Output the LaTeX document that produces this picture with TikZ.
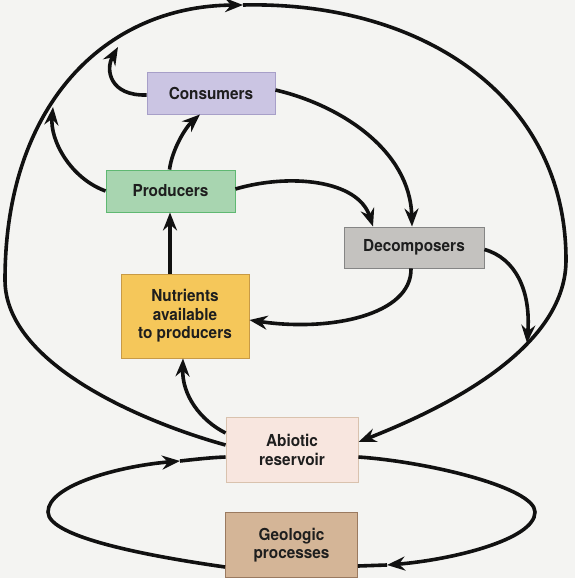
\documentclass[tikz,border=0pt]{standalone}
\usepackage{fontspec}
\setmainfont{TeX Gyre Heros}[FakeStretch=0.93]
\usetikzlibrary{arrows.meta}
\definecolor{bg}{HTML}{F4F4F2}
\definecolor{txt}{HTML}{1E1E1E}
\definecolor{consfill}{HTML}{CBC5E3}
\definecolor{consdraw}{HTML}{A79FC8}
\definecolor{prodfill}{HTML}{A8D5B0}
\definecolor{proddraw}{HTML}{5FB872}
\definecolor{decfill}{HTML}{C4C2BF}
\definecolor{decdraw}{HTML}{858585}
\definecolor{nutfill}{HTML}{F5C75A}
\definecolor{nutdraw}{HTML}{C89A45}
\definecolor{abifill}{HTML}{F8E6DF}
\definecolor{abidraw}{HTML}{D9C2AE}
\definecolor{geofill}{HTML}{D4B597}
\definecolor{geodraw}{HTML}{9A7A60}
\definecolor{ink}{HTML}{111111}
\begin{document}
\begin{tikzpicture}[x=1pt,y=-1pt,
  box/.style={draw, line width=0.9pt, inner sep=0pt, align=center,
    font=\fontsize{16.5}{18.5}\selectfont\bfseries, text=txt},
  flow/.style={line width=3.6pt, draw=ink, -{Stealth[length=18pt,width=14pt,inset=6pt]}},
  plain/.style={line width=3.6pt, draw=ink}]
\fill[bg] (0,0) rectangle (575,578);
\useasboundingbox (0,0) rectangle (575,578);

\node[box, fill=consfill, draw=consdraw, minimum width=128pt, minimum height=42pt] (cons) at (211,93) {Consumers};
\node[box, fill=prodfill, draw=proddraw, minimum width=129pt, minimum height=42pt] (prod) at (170.5,191) {Producers};
\node[box, fill=decfill, draw=decdraw, minimum width=140pt, minimum height=41pt] (decomp) at (414,247.5) {Decomposers};
\node[box, fill=nutfill, draw=nutdraw, minimum width=128pt, minimum height=84pt] (nutr) at (185,316) {Nutrients\\available\\to producers};
\node[box, fill=abifill, draw=abidraw, minimum width=132pt, minimum height=65pt] (abio) at (292,450) {Abiotic\\reservoir};
\node[box, fill=geofill, draw=geodraw, minimum width=132pt, minimum height=65pt] (geo) at (291.5,545) {Geologic\\processes};

\coordinate (top) at (243,5);
\coordinate (ctip) at (118,47);
\coordinate (ptip) at (53,107);
\coordinate (dtip) at (527,343);
\coordinate (bl) at (180,461);
\coordinate (br) at (387,565);

% big outer loop
\draw[flow] ([yshift=5pt]abio.west) .. controls (146,423) and (5,365) .. (5,280)
  .. controls (5,105) and (105,6) .. (top);
\draw[flow] (top) .. controls (420,1) and (566,95) .. (566,260)
  .. controls (566,350) and (441,409.5) .. ([yshift=8pt]abio.east);

% inner connectors
\draw[flow] ([yshift=-2pt]cons.west) .. controls (110,96) and (105,70) .. (ctip);
\draw[flow] (prod.west) .. controls (70,178) and (50,140) .. (ptip);
\draw[flow] ([xshift=-1pt]prod.north) .. controls (172,150) and (185,128) .. ([xshift=-11pt]cons.south);
\draw[flow] ([yshift=2pt]prod.east) .. controls (290,173) and (358,180) .. ([xshift=-41pt]decomp.north);
\draw[flow] ([yshift=3pt]cons.east) .. controls (340,105) and (410,150) .. ([xshift=-2pt]decomp.north);
\draw[flow] ([xshift=-15pt]nutr.north) -- ([xshift=-0.5pt]prod.south);
\draw[flow] ([xshift=-3pt]decomp.south) .. controls (412,315) and (330,332) .. ([yshift=-4pt]nutr.east);
\draw[flow] ([yshift=-2pt]decomp.east) .. controls (515,258) and (531,290) .. (dtip);
\draw[flow] ([yshift=17pt]abio.west) .. controls (200,420) and (182,395) .. ([xshift=-2pt]nutr.south);

% bottom loop
\draw[flow] ([yshift=-22pt]geo.west) .. controls (155,557) and (48,538) .. (48,512)
  .. controls (48,485) and (120,466) .. (bl);
\draw[plain] (bl) .. controls (198,459) and (212,457.5) .. ([yshift=-7pt]abio.west);
\draw[flow] ([yshift=-7pt]abio.east) .. controls (430,462) and (535,488) .. (535,512)
  .. controls (535,540) and (450,560) .. (br);
\draw[plain] (br) -- ([yshift=-21pt]geo.east);
\end{tikzpicture}
\end{document}
